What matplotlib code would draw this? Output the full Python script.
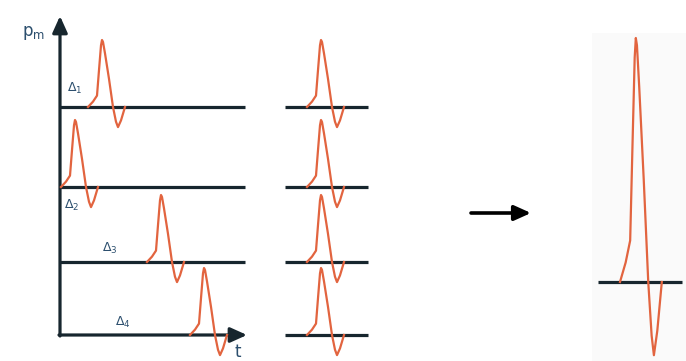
import matplotlib
matplotlib.use("Agg")
import matplotlib.pyplot as plt
import numpy as np
from matplotlib.patches import Rectangle

# ---- data ----
# single pressure pulse shape: time offset (px) vs relative amplitude
pulse_t = [0, 5, 9, 11, 13, 14, 15, 17, 21, 25, 28, 30, 33, 37]
pulse_p = [0, 0.08, 0.17, 0.55, 0.92, 1.0, 0.97, 0.8, 0.42, 0.0, -0.22, -0.3, -0.2, 0.0]
# delays of the four pulses relative to the p axis (px)
delays = [28, 1, 87, 130]
delay_labels = ["Δ$_1$", "Δ$_2$", "Δ$_3$", "Δ$_4$"]
# baselines of the four rows
row_base = [107, 187, 262, 335]
row_amp = 67          # px per unit amplitude (rows)
sum_amp = 61          # px per unit amplitude (summed pulse)
sum_stretch = 1.13    # time stretch of summed pulse

PULSE = "#e2643f"
INK = "#17262e"
TXT = "#2c4f6e"

fig = plt.figure(figsize=(6.86, 3.61), dpi=100)
ax = fig.add_axes([0, 0, 1, 1])
ax.set_xlim(0, 686)
ax.set_ylim(361, 0)
ax.axis("off")
fig.patch.set_facecolor("white")

# faint panel background
ax.add_patch(Rectangle((592, 33), 94, 328, color="#fafafa", zorder=0, lw=0))

pt = np.array(pulse_t, float)
pp = np.array(pulse_p, float)

axis_x = 60
lw_ink = 2.3
# left panel: baselines
for yb in row_base[:3]:
    ax.plot([axis_x, 245], [yb, yb], color=INK, lw=lw_ink, solid_capstyle="butt", zorder=2)
# axes with arrows
ax.annotate("", xy=(axis_x, 16), xytext=(axis_x, row_base[3] + 1),
            arrowprops=dict(arrowstyle="-|>,head_length=1.0,head_width=0.45",
                            color=INK, lw=lw_ink, shrinkA=0, shrinkB=0))
ax.annotate("", xy=(247, row_base[3]), xytext=(axis_x - 1, row_base[3]),
            arrowprops=dict(arrowstyle="-|>,head_length=1.0,head_width=0.45",
                            color=INK, lw=lw_ink, shrinkA=0, shrinkB=0))
ax.text(22, 33, "p$_\\mathrm{m}$", fontsize=12, color=TXT, ha="left", va="center")
ax.text(238, 352, "t", fontsize=12, color=TXT, ha="center", va="center")

# delayed pulses
for d, yb in zip(delays, row_base):
    ax.plot(axis_x + d + pt, yb - row_amp * pp, color=PULSE, lw=1.6, zorder=3)

# delay labels
label_pos = [(75, 88), (72, 205), (110, 248), (123, 322)]
for (x, y), s in zip(label_pos, delay_labels):
    ax.text(x, y, s, fontsize=9, color=TXT, ha="center", va="center")

# middle panel: aligned pulses
for yb in row_base:
    ax.plot([285, 368], [yb, yb], color=INK, lw=lw_ink, solid_capstyle="butt", zorder=2)
    ax.plot(307 + pt, yb - row_amp * pp, color=PULSE, lw=1.6, zorder=3)

# arrow
ax.annotate("", xy=(531, 213), xytext=(471, 213),
            arrowprops=dict(arrowstyle="-|>,head_length=1.0,head_width=0.45",
                            color="black", lw=2.6, shrinkA=0, shrinkB=0))

# right panel: summed pulse (sum of the four aligned pulses)
sum_base = 282
ax.plot([598, 682], [sum_base, sum_base], color=INK, lw=lw_ink, solid_capstyle="butt", zorder=2)
summed = pp * len(delays)
ax.plot(620 + sum_stretch * pt, sum_base - sum_amp * summed, color=PULSE, lw=1.6, zorder=3)

fig.savefig("out.png", dpi=100, facecolor="white")
